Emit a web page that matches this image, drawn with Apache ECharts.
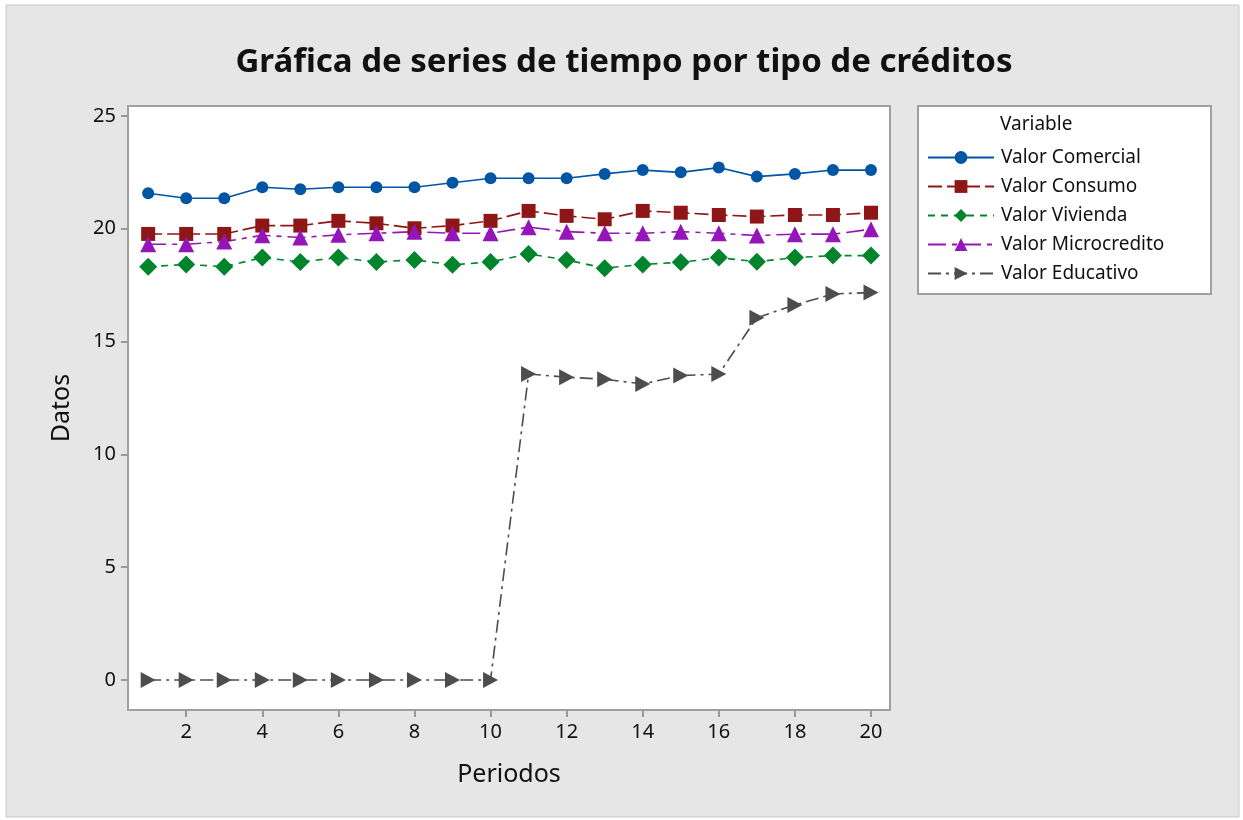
<!DOCTYPE html>
<html>
<head>
<meta charset="utf-8">
<script src="https://cdn.jsdelivr.net/npm/echarts@6/dist/echarts.min.js"></script>
<style>
  html, body { margin: 0; padding: 0; background: #ffffff; }
  #chart { width: 1243px; height: 820px; }
</style>
</head>
<body>
<div id="chart"></div>
<script>
// periods 1..20
var periods = [1, 2, 3, 4, 5, 6, 7, 8, 9, 10, 11, 12, 13, 14, 15, 16, 17, 18, 19, 20];
var xTicks = [2, 4, 6, 8, 10, 12, 14, 16, 18, 20];
var yTicks = [0, 5, 10, 15, 20, 25];

var comercial = [21.57, 21.35, 21.35, 21.84, 21.75, 21.84, 21.84, 21.84, 22.04, 22.24,
  22.24, 22.24, 22.43, 22.6, 22.5, 22.71, 22.31, 22.43, 22.6, 22.6];
var consumo = [19.77, 19.77, 19.77, 20.14, 20.14, 20.35, 20.24, 20.02, 20.14, 20.35,
  20.79, 20.57, 20.42, 20.79, 20.71, 20.61, 20.54, 20.61, 20.61, 20.71];
var vivienda = [18.32, 18.42, 18.32, 18.72, 18.53, 18.72, 18.53, 18.62, 18.4, 18.53,
  18.88, 18.62, 18.25, 18.42, 18.51, 18.72, 18.54, 18.72, 18.81, 18.81];
var microcredito = [19.31, 19.31, 19.43, 19.71, 19.61, 19.73, 19.8, 19.87, 19.8, 19.8,
  20.07, 19.87, 19.8, 19.8, 19.87, 19.8, 19.7, 19.76, 19.76, 19.98];
var educativo = [0, 0, 0, 0, 0, 0, 0, 0, 0, 0,
  13.56, 13.42, 13.33, 13.12, 13.49, 13.56, 16.06, 16.62, 17.11, 17.17];

var FONT = "Noto Sans";

function pairs(vals) {
  return periods.map(function (p, i) { return [p, vals[i]]; });
}

function makeSeries(name, vals, color, symbol, size, dash) {
  return {
    name: name,
    type: "line",
    data: pairs(vals),
    symbol: symbol,
    symbolSize: size,
    itemStyle: { color: color },
    lineStyle: { color: color, width: 1.6, type: dash },
    emphasis: { disabled: true },
  };
}

var myChart = echarts.init(document.getElementById("chart"));
var option = {
  animation: false,
  textStyle: { fontFamily: FONT },
  title: {
    text: "Gráfica de series de tiempo por tipo de créditos",
    left: 619,
    textAlign: "center",
    top: 41,
    textStyle: { fontFamily: FONT, fontSize: 33, fontWeight: "bold", color: "#111" },
  },
  graphic: [
    {
      type: "rect",
      z: -10,
      shape: { x: 6, y: 5, width: 1233, height: 812 },
      style: { fill: "#e6e6e6", stroke: "#c8c8c8", lineWidth: 1 },
    },
    {
      type: "rect",
      z: -5,
      shape: { x: 918, y: 106, width: 293, height: 188 },
      style: { fill: "#ffffff", stroke: "#a0a0a0", lineWidth: 2 },
    },
    {
      type: "text",
      left: 1000,
      top: 115,
      style: { text: "Variable", font: "19px 'Noto Sans'", fill: "#111" },
    },
  ],
  legend: {
    orient: "vertical",
    left: 922,
    top: 143,
    itemWidth: 66,
    itemHeight: 16,
    itemGap: 10,
    textStyle: { fontFamily: FONT, fontSize: 19, color: "#111", padding: [0, 0, 0, 2] },
    data: ["Valor Comercial", "Valor Consumo", "Valor Vivienda", "Valor Microcredito", "Valor Educativo"],
  },
  grid: {
    left: 128,
    top: 106,
    width: 762,
    height: 604,
    show: true,
    backgroundColor: "#ffffff",
    borderColor: "#a0a0a0",
    borderWidth: 2,
  },
  xAxis: {
    type: "value",
    min: 0.47,
    max: 20.5,
    name: "Periodos",
    nameLocation: "center",
    nameGap: 52,
    nameTextStyle: { fontFamily: FONT, fontSize: 25, color: "#111" },
    axisLine: { show: false, onZero: false },
    splitLine: { show: false },
    axisTick: { show: true, length: 7, customValues: xTicks, lineStyle: { color: "#999", width: 2 } },
    axisLabel: { customValues: xTicks, fontFamily: FONT, fontSize: 20, color: "#111", margin: 12 },
  },
  yAxis: {
    type: "value",
    min: -1.33,
    max: 25.44,
    name: "Datos",
    nameLocation: "center",
    nameGap: 54,
    nameRotate: 90,
    nameTextStyle: { fontFamily: FONT, fontSize: 25, color: "#111" },
    axisLine: { show: false, onZero: false },
    splitLine: { show: false },
    axisTick: { show: true, length: 7, customValues: yTicks, lineStyle: { color: "#999", width: 2 } },
    axisLabel: { customValues: yTicks, fontFamily: FONT, fontSize: 20, color: "#111", margin: 12 },
  },
  series: [
    makeSeries("Valor Comercial", comercial, "#0055a5", "circle", 12, "solid"),
    makeSeries("Valor Consumo", consumo, "#8e1616", "rect", 14, [14, 5]),
    makeSeries("Valor Vivienda", vivienda, "#00852c", "diamond", 18, [7, 6]),
    makeSeries("Valor Microcredito", microcredito, "#9416b8", "triangle", 16, [18, 6, 5, 6]),
    makeSeries("Valor Educativo", educativo, "#4d4d4d", "path://M0,0 L10,5 L0,10 Z", [15, 16], [13, 5, 3, 5]),
  ],
};
myChart.setOption(option, true);
</script>
</body>
</html>
